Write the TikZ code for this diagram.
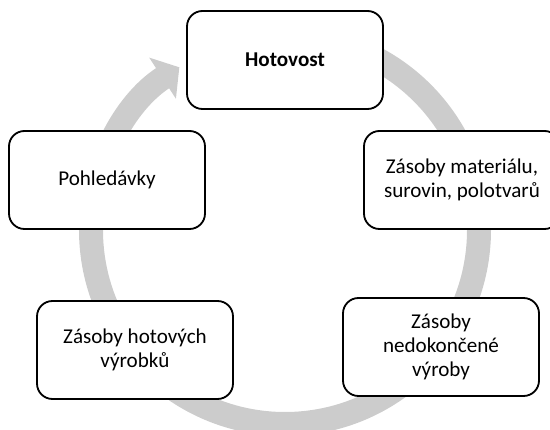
\documentclass[tikz,border=0pt]{standalone}
\usepackage{fontspec}
\setmainfont{Carlito}
\usetikzlibrary{arrows.meta}

\begin{document}
\begin{tikzpicture}[
    box/.style={
        draw=black,
        line width=1.3pt,
        fill=white,
        rounded corners=11pt,
        minimum width=4.9cm,
        minimum height=2.45cm,
        align=center,
        font=\fontsize{15}{17}\selectfont
    },
    ring/.style={
        line width=0.6cm,
        draw=black!20,
        -{Triangle[length=0.5cm, width=1.2cm, color=black!20]}
    }
]
    \clip (-7.125,-5) rectangle (6.625,5.75);
    \coordinate (stred) at (0,0);

    % kruhova sipka v pozadi
    \draw[ring] (stred) ++(90:4.85)
        arc[start angle=90, end angle=-237, radius=4.85];

    \node[box] (hot) at (0,4.25)
        {\textbf{Hotovost}};

    \node[box] (mat) at (4.425,1.25)
        {Zásoby materiálu,\\surovin, polotvarů};

    \node[box] (ned) at (3.9,-2.925)
        {Zásoby\\nedokončené\\výroby};

    \node[box] (hv) at (-3.75,-3.0)
        {Zásoby hotových\\výrobků};

    \node[box] (pohl) at (-4.45,1.25)
        {Pohledávky};
\end{tikzpicture}
\end{document}
